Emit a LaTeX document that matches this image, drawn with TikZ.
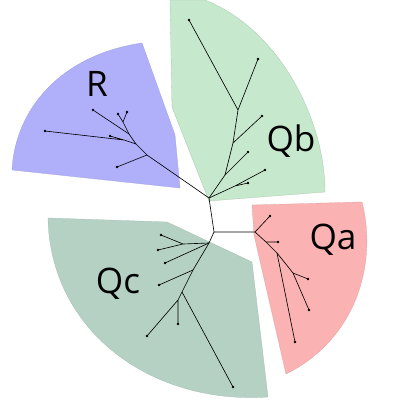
\documentclass[tikz,border=0pt]{standalone}
\usepackage{fontspec}
\setmainfont{Open Sans}
\usetikzlibrary{positioning}
\definecolor{cladeR}{RGB}{176,176,250}
\definecolor{cladeQb}{RGB}{198,232,204}
\definecolor{cladeQa}{RGB}{250,178,178}
\definecolor{cladeQc}{RGB}{180,209,196}
\begin{document}
\begin{tikzpicture}[x=0.025cm,y=-0.025cm,
    leaf/.style={circle,fill=black,inner sep=0pt,minimum size=2pt},
    branch/.style={black,line width=0.45pt},
    cladename/.style={font=\fontsize{25}{30}\selectfont}]
  \useasboundingbox (0,0) rectangle (400,400);
  \filldraw[fill=cladeR,draw=cladeR!90!black,line width=0.2pt]
        (142,43)--(175,135)--(180,188)--(12,170)
        .. controls (15,110) and (60,55) .. cycle;
  \filldraw[fill=cladeQb,draw=cladeQb!85!black,line width=0.2pt]
        (170,0)--(172,107)--(209,201)--(325,192)
        .. controls (325,120) and (280,30) .. (205,0)--cycle;
  \filldraw[fill=cladeQa,draw=cladeQa!90!black,line width=0.2pt]
        (252,205)--(362,202)
        .. controls (378,265) and (355,340) .. (286,374)--(254,235)--cycle;
  \filldraw[fill=cladeQc,draw=cladeQc!90!black,line width=0.2pt]
        (48,218)--(167,222)--(252,262)--(268,397)
        .. controls (150,405) and (50,330) .. cycle;
  \node[cladename](lr)  at (97,84)  {R};
  \node[cladename](lqb) at (291,141){Qb};
  \node[cladename](lqa) at (333,240){Qa};
  \node[cladename](lqc) at (118,284){Qc};
  \coordinate (A) at (209,198);
  \coordinate (B) at (214,232);
  \coordinate (r1) at (147,155);
  \coordinate (r2) at (136,144);
  \coordinate (r2a) at (124,140);
  \coordinate (r3) at (129,134);
  \coordinate (r4) at (123,122);
  \node[leaf](rl1) at (117,167){};
  \node[leaf](rl2) at (45,131){};
  \node[leaf](rl3) at (110,136){};
  \node[leaf](rl4) at (93,110){};
  \node[leaf](rl5) at (127,112){};
  \node[leaf](rl6) at (118,114){};
  \coordinate (qb1) at (235,186);
  \coordinate (qb2) at (225,175);
  \coordinate (qb3) at (233,143);
  \coordinate (qb4) at (238,110);
  \node[leaf](bl1) at (248,183){};
  \node[leaf](bl2) at (265,170){};
  \node[leaf](bl3) at (248,152){};
  \node[leaf](bl4) at (262,116){};
  \node[leaf](bl5) at (258,59){};
  \node[leaf](bl6) at (189,20){};
  \coordinate (qa0) at (255,232);
  \coordinate (qa1) at (266,242);
  \coordinate (qa2) at (277,253);
  \coordinate (qa3) at (293,273);
  \node[leaf](al1) at (270,216){};
  \node[leaf](al2) at (278,242){};
  \node[leaf](al3) at (295,342){};
  \node[leaf](al4) at (308,279){};
  \node[leaf](al5) at (309,310){};
  \coordinate (C) at (209,243);
  \coordinate (c1) at (183,244);
  \coordinate (c2) at (193,270);
  \coordinate (c3) at (182,292);
  \coordinate (c4) at (178,300);
  \node[leaf](cl1) at (161,235){};
  \node[leaf](cl2) at (158,250){};
  \node[leaf](cl3) at (165,263){};
  \node[leaf](cl4) at (159,285){};
  \node[leaf](cl5) at (178,324){};
  \node[leaf](cl6) at (147,336){};
  \node[leaf](cl7) at (233,387){};
  \draw[branch] (A)--(B);
  \draw[branch] (A)--(r1)--(r2)--(r3)--(rl4.center);
  \draw[branch] (r1)--(rl1.center);
  \draw[branch] (r2)--(r2a)--(rl2.center) (r2a)--(rl3.center);
  \draw[branch] (r3)--(r4)--(rl5.center) (r4)--(rl6.center);
  \draw[branch] (A)--(qb1)--(bl1.center) (qb1)--(bl2.center);
  \draw[branch] (A)--(qb2)--(bl3.center);
  \draw[branch] (qb2)--(qb3)--(bl4.center);
  \draw[branch] (qb3)--(qb4)--(bl5.center) (qb4)--(bl6.center);
  \draw[branch] (B)--(qa0)--(al1.center);
  \draw[branch] (qa0)--(qa1)--(al2.center);
  \draw[branch] (qa1)--(qa2)--(al3.center);
  \draw[branch] (qa2)--(qa3)--(al4.center) (qa3)--(al5.center);
  \draw[branch] (B)--(C)--(c1)--(cl1.center) (c1)--(cl2.center);
  \draw[branch] (C)--(cl3.center);
  \draw[branch] (C)--(c2)--(cl4.center);
  \draw[branch] (c2)--(c3)--(c4)--(cl5.center) (c4)--(cl6.center);
  \draw[branch] (c3)--(cl7.center);
\end{tikzpicture}
\end{document}
